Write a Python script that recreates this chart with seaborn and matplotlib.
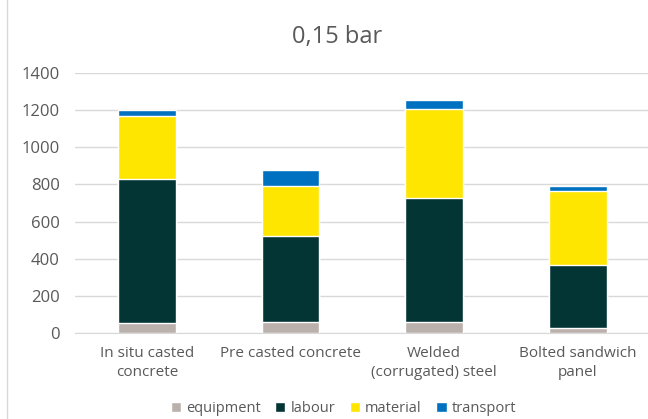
import numpy as np
import pandas as pd
import seaborn as sns
import matplotlib.pyplot as plt
from matplotlib.patches import Patch
from matplotlib.lines import Line2D

categories = ["In situ casted\nconcrete", "Pre casted concrete",
              "Welded\n(corrugated) steel", "Bolted sandwich\npanel"]
equipment = [52, 58, 58, 25]
labour = [776, 466, 671, 341]
material = [342, 268, 479, 400]
transport = [33, 87, 45, 26]

series = ["equipment", "labour", "material", "transport"]
colors = {"equipment": "#BBB1AC", "labour": "#033535",
          "material": "#FFE600", "transport": "#0070C0"}

df = pd.DataFrame({"category": categories, "equipment": equipment,
                   "labour": labour, "material": material, "transport": transport})
# cumulative tops, drawn from tallest to shortest so each layer shows
cum = df[series].cumsum(axis=1)

sns.set_style("white")
plt.rcParams["font.family"] = ["Open Sans", "DejaVu Sans"]

fig = plt.figure(figsize=(6.48, 4.19), dpi=100)
ax = fig.add_axes([0.1157, 0.205, 0.887, 0.621])

for s in reversed(series):
    sns.barplot(x=df["category"], y=cum[s], color=colors[s], width=0.4,
                saturation=1, ax=ax, zorder=3)

ax.set_xlim(-0.5, 3.5)
ax.set_ylim(0, 1400)
ax.set_yticks(range(0, 1401, 200))
ax.yaxis.grid(True, color="#D9D9D9", linewidth=1, zorder=0)
ax.set_xlabel("")
ax.set_ylabel("")
ax.tick_params(axis="both", length=0, labelsize=11, labelcolor="#595959")
ax.tick_params(axis="y", pad=11, labelsize=12)
ax.tick_params(axis="x", pad=9)
for lbl in ax.get_xticklabels():
    lbl.set_linespacing(1.4)
for sp in ["top", "right", "left"]:
    ax.spines[sp].set_visible(False)
ax.spines["bottom"].set_color("#D9D9D9")

fig.text(0.52, 0.912, "0,15 bar", ha="center", va="center", fontsize=17, color="#595959")

handles = [Patch(facecolor=colors[s], label=s) for s in series]
fig.legend(handles=handles, loc="center", bbox_to_anchor=(0.53, 0.025), ncol=4,
           frameon=False, fontsize=10.5, handlelength=0.7, handleheight=0.7,
           handletextpad=0.35, columnspacing=1.0, labelcolor="#595959")

fig.lines.append(Line2D([0.011, 0.011], [0, 1], transform=fig.transFigure,
                        color="#D9D9D9", linewidth=1))

fig.savefig("out.png", dpi=100)
